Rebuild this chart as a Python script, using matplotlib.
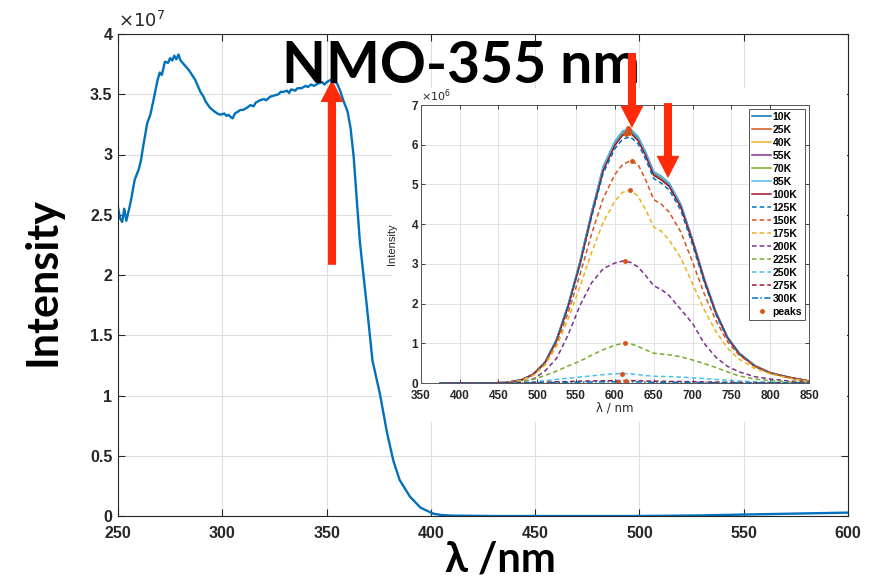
import matplotlib
matplotlib.use("Agg")
import matplotlib.pyplot as plt
from matplotlib.patches import Rectangle

plt.rcParams['font.family'] = ['Liberation Sans', 'DejaVu Sans']

# excitation spectrum (main plot), intensity in units of 1e7
main_wl = [250, 251, 252, 253, 254, 256, 258, 260, 261, 262, 264, 265.5, 267, 269, 270,
           271, 272.5, 274, 275, 276, 277, 278, 279, 280, 281, 283, 284, 285.5, 287, 288,
           289.5, 291, 292, 294, 296, 297.7, 299, 301, 302, 303, 304, 305, 306, 307, 308.7,
           310, 312, 313.5, 315, 316, 318, 320, 321, 323, 325, 327, 328, 329.5, 331, 332,
           333, 335, 336, 338, 340, 341, 342.5, 344, 346, 348, 349, 350, 352, 353, 355,
           356.5, 358, 360, 361.5, 363, 364.5, 366, 368, 369.5, 372, 375.5, 379, 382,
           385, 390, 395, 401, 405, 410, 430, 450, 500, 530, 550, 575, 600]
main_int = [2.56, 2.47, 2.44, 2.55, 2.45, 2.60, 2.79, 2.88, 2.95, 3.06, 3.26, 3.33, 3.45, 3.62, 3.68,
            3.66, 3.77, 3.76, 3.80, 3.78, 3.82, 3.79, 3.83, 3.78, 3.76, 3.72, 3.70, 3.66, 3.62, 3.58,
            3.52, 3.48, 3.44, 3.39, 3.36, 3.34, 3.33, 3.34, 3.32, 3.33, 3.31, 3.30, 3.34, 3.35, 3.37,
            3.37, 3.39, 3.41, 3.40, 3.43, 3.45, 3.46, 3.45, 3.48, 3.49, 3.50, 3.52, 3.52, 3.53, 3.51,
            3.54, 3.53, 3.55, 3.55, 3.57, 3.56, 3.58, 3.57, 3.59, 3.60, 3.58, 3.60, 3.62, 3.61, 3.59,
            3.53, 3.45, 3.36, 3.22, 2.98, 2.62, 2.27, 1.95, 1.71, 1.29, 1.02, 0.69, 0.46,
            0.30, 0.16, 0.07, 0.02, 0.008, 0.003, 0.0, 0.0, 0.0, 0.005, 0.012, 0.02, 0.028]

# emission spectra (inset), intensity in units of 1e6
pl_wl = [375, 425, 460, 480, 495, 510, 525, 540, 555, 570, 585, 600, 610, 620, 630,
         640, 650, 660, 670, 685, 700, 715, 730, 745, 760, 780, 800, 825, 850]
pl_10K = [0.00, 0.00, 0.01, 0.08, 0.22, 0.52, 1.10, 1.98, 3.05, 4.30, 5.45, 6.08, 6.34, 6.40, 6.20,
          5.80, 5.32, 5.20, 5.03, 4.50, 3.62, 2.64, 1.80, 1.16, 0.76, 0.44, 0.26, 0.14, 0.05]
pl_25K = [0.00, 0.00, 0.01, 0.08, 0.22, 0.52, 1.09, 1.97, 3.03, 4.27, 5.42, 6.05, 6.31, 6.37, 6.17,
          5.77, 5.29, 5.17, 5.00, 4.47, 3.60, 2.62, 1.79, 1.15, 0.75, 0.44, 0.26, 0.14, 0.05]
pl_40K = [0.00, 0.00, 0.01, 0.08, 0.22, 0.51, 1.09, 1.96, 3.02, 4.26, 5.40, 6.03, 6.29, 6.35, 6.15,
          5.75, 5.27, 5.15, 4.98, 4.46, 3.59, 2.61, 1.78, 1.15, 0.75, 0.43, 0.26, 0.14, 0.05]
pl_55K = [0.00, 0.00, 0.01, 0.08, 0.22, 0.51, 1.08, 1.95, 3.01, 4.25, 5.39, 6.02, 6.28, 6.34, 6.14,
          5.74, 5.26, 5.14, 4.97, 4.45, 3.58, 2.60, 1.77, 1.14, 0.74, 0.43, 0.26, 0.14, 0.05]
pl_70K = [0.00, 0.00, 0.01, 0.08, 0.22, 0.51, 1.08, 1.95, 3.00, 4.24, 5.38, 6.01, 6.27, 6.33, 6.13,
          5.73, 5.25, 5.13, 4.96, 4.44, 3.57, 2.60, 1.77, 1.14, 0.74, 0.43, 0.25, 0.14, 0.05]
pl_85K = [0.00, 0.00, 0.01, 0.08, 0.22, 0.52, 1.10, 1.98, 3.04, 4.29, 5.44, 6.07, 6.33, 6.39, 6.19,
          5.79, 5.31, 5.19, 5.02, 4.49, 3.61, 2.63, 1.80, 1.16, 0.76, 0.44, 0.26, 0.14, 0.05]
pl_100K = [0.00, 0.00, 0.01, 0.08, 0.22, 0.51, 1.07, 1.94, 2.99, 4.22, 5.35, 5.98, 6.24, 6.30, 6.10,
           5.71, 5.23, 5.11, 4.95, 4.43, 3.57, 2.60, 1.77, 1.14, 0.74, 0.43, 0.25, 0.14, 0.05]
pl_125K = [0.00, 0.00, 0.01, 0.08, 0.21, 0.50, 1.06, 1.92, 2.96, 4.17, 5.28, 5.90, 6.14, 6.20, 6.02,
           5.62, 5.15, 5.03, 4.86, 4.35, 3.48, 2.54, 1.73, 1.12, 0.73, 0.42, 0.25, 0.13, 0.05]
pl_150K = [0.00, 0.00, 0.01, 0.07, 0.20, 0.48, 1.00, 1.78, 2.72, 3.75, 4.65, 5.25, 5.50, 5.60, 5.50,
           5.10, 4.62, 4.50, 4.30, 3.80, 3.05, 2.25, 1.58, 1.04, 0.70, 0.42, 0.26, 0.13, 0.05]
pl_175K = [0.00, 0.00, 0.01, 0.07, 0.19, 0.45, 0.93, 1.62, 2.42, 3.28, 4.05, 4.58, 4.80, 4.86, 4.70,
           4.35, 3.93, 3.82, 3.60, 3.15, 2.50, 1.85, 1.30, 0.88, 0.60, 0.37, 0.23, 0.12, 0.04]
pl_200K = [0.00, 0.00, 0.00, 0.03, 0.10, 0.30, 0.62, 1.22, 1.95, 2.52, 2.88, 3.02, 3.07, 3.04, 2.92,
           2.70, 2.45, 2.35, 2.20, 1.85, 1.50, 1.00, 0.65, 0.42, 0.28, 0.16, 0.10, 0.05, 0.02]
pl_225K = [0.00, 0.00, 0.00, 0.03, 0.09, 0.19, 0.30, 0.43, 0.55, 0.70, 0.84, 0.95, 1.00, 0.99, 0.92,
           0.83, 0.75, 0.73, 0.71, 0.66, 0.58, 0.49, 0.39, 0.28, 0.18, 0.10, 0.06, 0.03, 0.01]
pl_250K = [0.00, 0.00, 0.00, 0.01, 0.03, 0.06, 0.09, 0.12, 0.15, 0.18, 0.21, 0.23, 0.24, 0.23, 0.21,
           0.19, 0.17, 0.165, 0.16, 0.15, 0.13, 0.11, 0.09, 0.07, 0.05, 0.03, 0.02, 0.01, 0.00]
pl_275K = [0.00, 0.00, 0.00, 0.005, 0.01, 0.02, 0.03, 0.035, 0.045, 0.05, 0.055, 0.06, 0.062, 0.06, 0.055,
           0.05, 0.045, 0.043, 0.04, 0.037, 0.032, 0.027, 0.022, 0.017, 0.012, 0.008, 0.005, 0.003, 0.00]
pl_300K = [0.00, 0.00, 0.00, 0.00, 0.005, 0.01, 0.015, 0.02, 0.022, 0.025, 0.028, 0.03, 0.03, 0.028, 0.026,
           0.024, 0.022, 0.021, 0.02, 0.018, 0.016, 0.013, 0.01, 0.008, 0.006, 0.004, 0.003, 0.002, 0.00]

temps = ["10K", "25K", "40K", "55K", "70K", "85K", "100K", "125K",
         "150K", "175K", "200K", "225K", "250K", "275K", "300K"]
spectra = [pl_10K, pl_25K, pl_40K, pl_55K, pl_70K, pl_85K, pl_100K, pl_125K,
           pl_150K, pl_175K, pl_200K, pl_225K, pl_250K, pl_275K, pl_300K]

peak_wl = [617, 618, 618, 617, 616, 617, 618, 614, 621.5, 620, 613, 613, 609.5, 614, 604]
peak_val = [6.41, 6.38, 6.36, 6.35, 6.34, 6.39, 6.30, 6.26, 5.60, 4.86, 3.07, 1.00, 0.23, 0.06, 0.03]

mcolors = ['#0072BD', '#D95319', '#EDB120', '#7E2F8E', '#77AC30', '#4DBEEE', '#A2142F']
styles = ['-'] * 7 + [(0, (3, 2))] * 7 + [(0, (4, 1.5, 1, 1.5))]
txt_col = '#262626'
red = '#ff2a0a'

fig = plt.figure(figsize=(8.9, 5.8), dpi=100)

# ---- main axes ----
ax = fig.add_axes([118 / 890, 64 / 580, 730 / 890, 482 / 580])
ax.plot(main_wl, main_int, color='#0072BD', lw=1.7)
ax.set_xlim(250, 600)
ax.set_ylim(0, 4)
ax.set_xticks(range(250, 601, 50))
ax.set_yticks([0, 0.5, 1, 1.5, 2, 2.5, 3, 3.5, 4])
ax.set_yticklabels(['0', '0.5', '1', '1.5', '2', '2.5', '3', '3.5', '4'])
ax.grid(True, color='#dedede', lw=0.8)
ax.set_axisbelow(True)
ax.tick_params(direction='in', top=True, right=True, length=5, width=0.8,
               labelsize=11.5, colors=txt_col, pad=4)
ax.tick_params(axis='x', pad=7)
for lab in ax.get_xticklabels() + ax.get_yticklabels():
    lab.set_fontweight('bold')
for sp in ax.spines.values():
    sp.set_color(txt_col)
    sp.set_linewidth(0.8)
ax.text(0.0, 1.006, r'$\times10^{7}$', transform=ax.transAxes, fontsize=13,
        color=txt_col, ha='left', va='bottom')

fig.text(43 / 890, 298 / 580, 'Intensity', rotation=90, fontsize=31, fontweight='bold',
         family=['Lato', 'DejaVu Sans'], ha='center', va='center')
fig.text(500 / 890, 8 / 580, 'λ /nm', fontsize=30, fontweight='bold',
         family=['Lato', 'DejaVu Sans'], ha='center', va='baseline')

# white backing of the pasted inset
fig.add_artist(Rectangle((392 / 890, 158 / 580), 455 / 890, 334 / 580,
                         transform=fig.transFigure, facecolor='white', edgecolor='none',
                         zorder=1))

fig.text(461 / 890, 497 / 580, 'NMO-355 nm', fontsize=41, fontweight='bold',
         family=['Lato', 'DejaVu Sans'], ha='center', va='baseline', zorder=2)

arrow = dict(arrowstyle='simple,head_length=1.6,head_width=1.65,tail_width=0.58',
             mutation_scale=10, color=red, shrinkA=0, shrinkB=0, lw=0)
ax.annotate('', xy=(352.6, 3.62), xytext=(0, -185), textcoords='offset pixels',
            arrowprops=arrow, annotation_clip=False)

# ---- inset ----
ins = fig.add_axes([420.7 / 890, 197 / 580, 388.3 / 890, 278 / 580])
ins.set_zorder(3)
for t, y, c, ls in zip(temps, spectra, mcolors * 2 + mcolors[:1], styles):
    ins.plot(pl_wl, y, color=c, ls=ls, lw=1.1, label=t)
ins.plot(peak_wl, peak_val, '.', color='#D95319', ms=5, label='peaks')
ins.set_xlim(350, 850)
ins.set_ylim(0, 7)
ins.set_xticks(range(350, 851, 50))
ins.set_yticks(range(0, 8))
ins.grid(True, color='#e3e3e3', lw=0.7)
ins.set_axisbelow(True)
ins.tick_params(direction='in', top=True, right=True, length=3, width=0.6,
                labelsize=8.5, colors=txt_col, pad=2)
ins.tick_params(axis='x', pad=5)
for lab in ins.get_xticklabels() + ins.get_yticklabels():
    lab.set_fontweight('bold')
for sp in ins.spines.values():
    sp.set_color('#555555')
    sp.set_linewidth(0.7)
ins.text(0.0, 1.005, r'$\times10^{6}$', transform=ins.transAxes, fontsize=8,
         color=txt_col, ha='left', va='bottom')
ins.set_ylabel('Intensity', fontsize=8, color=txt_col)
ins.yaxis.set_label_coords(-0.061, 0.5)
ins.set_xlabel('λ / nm', fontsize=8.5, color=txt_col, family=['DejaVu Sans'])
ins.xaxis.set_label_coords(0.5, -0.068)
leg = ins.legend(loc='upper right', prop={'size': 7.5, 'weight': 'bold'},
                 handlelength=1.8, handletextpad=0.15, labelspacing=0.29,
                 borderpad=0.3, borderaxespad=0.35, fancybox=False, framealpha=1)
leg.get_frame().set_edgecolor('#555555')
leg.get_frame().set_linewidth(0.7)

ins.annotate('', xy=(622, 6.42), xytext=(0, 75), textcoords='offset pixels',
             arrowprops=arrow, annotation_clip=False)
ins.annotate('', xy=(668.4, 5.16), xytext=(0, 75), textcoords='offset pixels',
             arrowprops=arrow, annotation_clip=False)

fig.savefig('out.png', dpi=100, facecolor='white')
